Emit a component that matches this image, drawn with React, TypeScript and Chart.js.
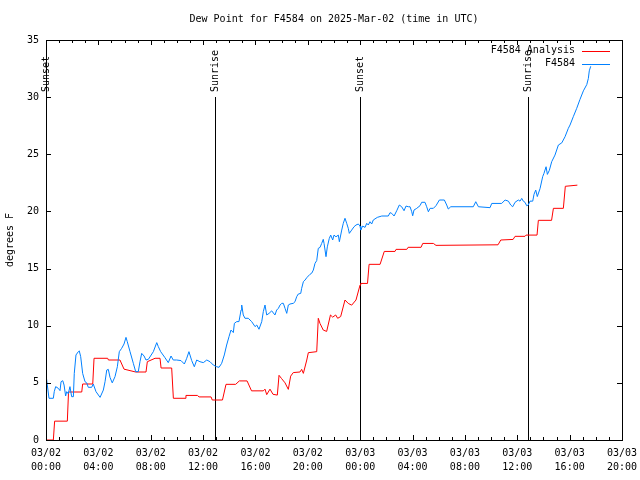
import React, { useEffect, useRef } from "react";
import { Chart, registerables } from "chart.js";

Chart.register(...registerables);

const titleText = "Dew Point for F4584 on 2025-Mar-02 (time in UTC)";
const yAxisLabel = "degrees F";
const xTickLabels: string[][] = [
  ["03/02", "00:00"], ["03/02", "04:00"], ["03/02", "08:00"], ["03/02", "12:00"],
  ["03/02", "16:00"], ["03/02", "20:00"], ["03/03", "00:00"], ["03/03", "04:00"],
  ["03/03", "08:00"], ["03/03", "12:00"], ["03/03", "16:00"], ["03/03", "20:00"],
];
const xMaxHours = 44;
const yMax = 35;
const yStep = 5;

const eventHours = [0, 12.93, 24.01, 36.85];
const eventLabels = ["Sunset", "Sunrise", "Sunset", "Sunrise"];
const eventTopValue = 30;

const analysisLabel = "F4584 Analysis";
const obsLabel = "F4584";

// hours since 03/02 00:00 UTC
const analysisHours = [
  0, 0.56, 0.66, 1.63, 1.72, 2.73, 2.8, 3.57, 3.67, 4.71, 4.77, 5.65, 5.96, 6.85, 7.64, 7.74,
  8.33, 8.71, 8.79, 9.6, 9.73, 10.62, 10.69, 11.57, 11.69, 12.61, 12.7, 13.48, 13.75, 14.49,
  14.77, 15.36, 15.7, 16.6, 16.73, 16.86, 17.11, 17.34, 17.67, 17.8, 18.0, 18.26, 18.51, 18.69,
  18.89, 19.4, 19.53, 19.66, 19.92, 20.04, 20.68, 20.8, 20.93, 21.18, 21.44, 21.73, 21.9, 22.13,
  22.28, 22.51, 22.84, 23.09, 23.35, 23.68, 23.99, 24.04, 24.56, 24.68, 25.52, 25.84, 26.66,
  26.74, 27.56, 27.66, 28.65, 28.78, 29.59, 29.79, 34.53, 34.74, 35.68, 35.83, 36.59, 36.67,
  37.51, 37.61, 38.62, 38.76, 39.52, 39.67, 40.59,
];
const analysisValues = [
  0, 0, 1.65, 1.65, 4.2, 4.2, 4.9, 4.9, 7.15, 7.15, 7.0, 7.0, 6.2, 5.95, 5.95, 6.85,
  7.15, 7.15, 6.3, 6.3, 3.65, 3.65, 3.9, 3.9, 3.77, 3.77, 3.5, 3.5, 4.87, 4.87,
  5.17, 5.17, 4.3, 4.3, 4.45, 3.97, 4.45, 4.0, 3.93, 5.66, 5.37, 5.0, 4.43, 5.59,
  5.9, 5.95, 6.18, 5.83, 7.0, 7.64, 7.73, 10.65, 10.2, 9.62, 9.5, 10.94, 10.75, 10.94,
  10.65, 10.8, 12.25, 11.95, 11.8, 12.25, 13.56, 13.7, 13.7, 15.37, 15.37, 16.5, 16.5,
  16.68, 16.68, 16.86, 16.86, 17.2, 17.2, 17.03, 17.08, 17.5, 17.55, 17.82, 17.82, 17.93,
  17.93, 19.22, 19.22, 20.27, 20.27, 22.2, 22.3,
];

const obsHours = [
  0.02, 0.1, 0.23, 0.56, 0.63, 0.74, 0.94, 1.07, 1.15, 1.28, 1.38, 1.5, 1.58, 1.7, 1.83, 1.96,
  2.09, 2.16, 2.29, 2.47, 2.54, 2.65, 2.8, 2.98, 3.11, 3.23, 3.49, 3.61, 3.82, 4.13, 4.38, 4.51,
  4.64, 4.76, 4.89, 5.06, 5.27, 5.45, 5.6, 5.78, 5.96, 6.11, 6.21, 6.42, 6.67, 6.85, 7.05, 7.18,
  7.31, 7.49, 7.64, 7.82, 8.2, 8.46, 8.58, 8.76, 9.09, 9.34, 9.55, 9.72, 9.98, 10.31, 10.57,
  10.75, 10.92, 11.13, 11.33, 11.51, 11.76, 12.02, 12.28, 12.53, 12.78, 13.04, 13.22, 13.42,
  13.62, 13.8, 13.98, 14.13, 14.31, 14.39, 14.57, 14.74, 14.9, 14.95, 15.07, 15.2, 15.45,
  15.71, 15.97, 16.1, 16.27, 16.48, 16.6, 16.73, 16.86, 17.04, 17.24, 17.49, 17.62, 17.75,
  17.88, 18.01, 18.13, 18.26, 18.39, 18.51, 18.64, 18.89, 19.02, 19.15, 19.27, 19.46, 19.53,
  19.66, 19.79, 19.92, 20.04, 20.17, 20.3, 20.42, 20.55, 20.68, 20.8, 20.93, 21.06, 21.18,
  21.24, 21.39, 21.49, 21.64, 21.75, 21.9, 22.0, 22.15, 22.33, 22.41, 22.59, 22.71, 22.84,
  22.97, 23.09, 23.17, 23.35, 23.53, 23.68, 23.86, 23.99, 24.04, 24.19, 24.37, 24.5, 24.62,
  24.75, 24.88, 25.0, 25.31, 25.65, 26.15, 26.28, 26.41, 26.59, 26.79, 26.99, 27.17, 27.35,
  27.5, 27.68, 27.81, 27.94, 28.01, 28.11, 28.32, 28.57, 28.7, 28.95, 29.08, 29.21, 29.34,
  29.59, 29.79, 30.05, 30.43, 30.61, 30.73, 30.92, 32.64, 32.83, 33.03, 33.92, 34.05, 34.81,
  35.07, 35.32, 35.5, 35.65, 35.83, 36.08, 36.21, 36.34, 36.46, 36.59, 36.72, 36.84, 36.97,
  37.18, 37.28, 37.41, 37.53, 37.74, 37.94, 38.04, 38.2, 38.3, 38.45, 38.63, 38.88, 39.14,
  39.4, 39.65, 39.9, 40.03, 40.28, 40.54, 40.79, 41.05, 41.31, 41.43, 41.5, 41.61,
];
const obsValues = [
  5.54, 4.81, 3.65, 3.65, 4.23, 4.67, 4.52, 4.32, 5.1, 5.19, 4.81, 3.85, 4.23, 4.05, 4.67, 3.79,
  3.79, 5.83, 7.44, 7.73, 7.8, 7.29, 5.83, 5.1, 5.0, 4.61, 4.61, 4.9, 4.23, 3.73, 4.37, 5.1,
  6.12, 6.18, 5.48, 5.0, 5.54, 6.41, 7.73, 8.02, 8.4, 8.98, 8.6, 7.73, 6.71, 5.98, 5.98, 6.85,
  7.58, 7.35, 7.0, 7.06, 7.73, 8.52, 8.17, 7.73, 7.2, 6.77, 7.35, 7.0, 7.0, 6.95, 6.65,
  7.15, 7.73, 6.95, 6.41, 7.0, 6.85, 6.77, 7.0, 6.85, 6.56, 6.41, 6.36, 6.71,
  7.44, 8.31, 9.04, 9.62, 9.4, 10.21, 10.36, 10.36, 11.37, 11.81, 10.94, 10.65, 10.65,
  10.36, 9.92, 10.06, 9.69, 10.36, 11.23, 11.81, 10.94, 11.08, 11.3, 10.94, 11.37, 11.52,
  11.81, 11.96, 11.96, 11.52, 11.08, 11.81, 11.9, 11.96, 12.1, 12.54, 12.77, 12.83, 13.27,
  13.85, 14.0, 14.2, 14.35, 14.5, 14.6, 14.87, 15.46, 15.7, 16.77, 16.85, 17.2, 17.56,
  17.2, 16.04, 16.9, 17.64, 17.93, 17.5, 17.93, 17.78, 17.93, 17.35, 18.37, 18.96, 19.4,
  18.96, 18.52, 18.08, 18.37, 18.66, 18.81, 18.9, 18.72, 18.37, 18.72, 18.6, 18.96, 18.81,
  19.1, 18.9, 19.25, 19.48, 19.6, 19.6, 19.89, 19.83, 19.6, 20.06, 20.56, 20.41, 20.06,
  20.47, 20.41, 20.41, 19.97, 19.62, 20.12, 20.27, 20.5, 20.8, 20.8, 20.41, 19.97, 20.27,
  20.27, 20.5, 21.0, 21.0, 20.56, 20.21, 20.41, 20.41, 20.85, 20.41, 20.33, 20.7, 20.7,
  21.0, 20.9, 20.56, 20.41, 20.8, 21.0, 20.9, 21.14, 20.9, 20.8, 20.5, 20.56, 20.9,
  20.9, 21.5, 21.87, 21.3, 22.0, 23.04, 23.33, 23.91, 23.24, 23.6, 24.35, 24.93, 25.81,
  26.0, 26.54, 27.27, 27.56, 28.29, 29.02, 29.8, 30.55, 31.1, 31.64, 32.3, 32.7,
];

const analysisColor = "#ff0000";
const obsColor = "#0080ff";
const FONT = "'DejaVu Sans Mono', 'Liberation Mono', monospace";

const toPoints = (xs: number[], ys: number[]) => xs.map((x, i) => ({ x, y: ys[i] }));

const gnuplotPlugin = {
  id: "gnuplotDecor",
  beforeDatasetsDraw(chart: any) {
    const ctx = chart.ctx;
    const xs = chart.scales.x;
    const ys = chart.scales.y;
    const bottom = chart.chartArea.bottom;
    ctx.save();
    ctx.strokeStyle = "#000";
    ctx.lineWidth = 1;
    ctx.fillStyle = "#000";
    ctx.font = `10px ${FONT}`;
    const yTop = Math.round(ys.getPixelForValue(eventTopValue));
    eventHours.forEach((h, i) => {
      const px = Math.round(xs.getPixelForValue(h)) + 0.5;
      ctx.beginPath();
      ctx.moveTo(px, bottom);
      ctx.lineTo(px, yTop);
      ctx.stroke();
      ctx.save();
      ctx.translate(px, yTop - 5);
      ctx.rotate(-Math.PI / 2);
      ctx.textAlign = "left";
      ctx.textBaseline = "middle";
      ctx.fillText(eventLabels[i], 0, 0);
      ctx.restore();
    });
    ctx.restore();
  },
  afterDraw(chart: any) {
    const ctx = chart.ctx;
    const { left, right, top, bottom } = chart.chartArea;
    const xs = chart.scales.x;
    const ys = chart.scales.y;
    ctx.save();
    ctx.strokeStyle = "#000";
    ctx.lineWidth = 1;
    // border
    ctx.strokeRect(Math.round(left) + 0.5, Math.round(top) + 0.5, Math.round(right - left), Math.round(bottom - top));
    // inward ticks on all four sides
    ctx.beginPath();
    for (let h = 0; h <= xMaxHours; h++) {
      const px = Math.round(xs.getPixelForValue(h)) + 0.5;
      const len = h % 4 === 0 ? 5 : 3;
      ctx.moveTo(px, bottom);
      ctx.lineTo(px, bottom - len);
      ctx.moveTo(px, top);
      ctx.lineTo(px, top + len);
    }
    for (let v = 0; v <= yMax; v += yStep) {
      const py = Math.round(ys.getPixelForValue(v)) + 0.5;
      ctx.moveTo(left, py);
      ctx.lineTo(left + 5, py);
      ctx.moveTo(right, py);
      ctx.lineTo(right - 5, py);
    }
    ctx.stroke();

    // title
    ctx.fillStyle = "#000";
    ctx.font = `10px ${FONT}`;
    ctx.textAlign = "center";
    ctx.textBaseline = "middle";
    ctx.fillText(titleText, (left + right) / 2, 19);

    // y-axis label
    ctx.save();
    ctx.translate(10, (top + bottom) / 2);
    ctx.rotate(-Math.PI / 2);
    ctx.fillText(yAxisLabel, 0, 0);
    ctx.restore();

    // legend (gnuplot style: text then line sample)
    const ds = chart.data.datasets;
    ds.forEach((d: any, i: number) => {
      const y = 50 + i * 13 + 0.5;
      ctx.textAlign = "right";
      ctx.fillStyle = "#000";
      ctx.fillText(d.label, 575, y);
      ctx.strokeStyle = d.borderColor;
      ctx.beginPath();
      ctx.moveTo(582, Math.round(y) + 0.5);
      ctx.lineTo(610, Math.round(y) + 0.5);
      ctx.stroke();
    });
    ctx.restore();
  },
};

export default function App() {
  const canvasRef = useRef<HTMLCanvasElement | null>(null);

  useEffect(() => {
    if (!canvasRef.current) return;
    const chart = new Chart(canvasRef.current, {
      type: "line",
      data: {
        datasets: [
          {
            label: analysisLabel,
            data: toPoints(analysisHours, analysisValues),
            borderColor: analysisColor,
            backgroundColor: analysisColor,
            borderWidth: 1,
            pointRadius: 0,
            tension: 0,
            fill: false,
            order: 2,
          },
          {
            label: obsLabel,
            data: toPoints(obsHours, obsValues),
            borderColor: obsColor,
            backgroundColor: obsColor,
            borderWidth: 1,
            pointRadius: 0,
            tension: 0,
            fill: false,
            order: 1,
          },
        ],
      },
      options: {
        animation: false,
        responsive: false,
        devicePixelRatio: 1,
        layout: { padding: { top: 40, right: 18, bottom: 0, left: 0 } },
        plugins: {
          legend: { display: false },
          tooltip: { enabled: false },
          title: { display: false },
        },
        scales: {
          x: {
            type: "linear",
            min: 0,
            max: xMaxHours,
            grid: { display: false, drawTicks: false },
            border: { display: false },
            afterFit: (s: any) => {
              s.height = 40;
              s.paddingLeft = 0;
              s.paddingRight = 0;
            },
            ticks: {
              stepSize: 4,
              autoSkip: false,
              maxRotation: 0,
              minRotation: 0,
              padding: 6,
              color: "#000",
              font: { family: FONT, size: 10, lineHeight: 1.4 },
              callback: (v: any) => xTickLabels[Math.round(Number(v) / 4)] || "",
            },
          },
          y: {
            type: "linear",
            min: 0,
            max: yMax,
            grid: { display: false, drawTicks: false },
            border: { display: false },
            afterFit: (s: any) => {
              s.width = 46;
              s.paddingTop = 0;
              s.paddingBottom = 0;
            },
            ticks: {
              stepSize: yStep,
              padding: 7,
              color: "#000",
              font: { family: FONT, size: 10 },
            },
          },
        },
      },
      plugins: [gnuplotPlugin],
    } as any);
    return () => chart.destroy();
  }, []);

  return (
    <div style={{ position: "absolute", left: 0, top: 0, width: 640, height: 480, background: "#fff" }}>
      <canvas ref={canvasRef} width={640} height={480} />
    </div>
  );
}
